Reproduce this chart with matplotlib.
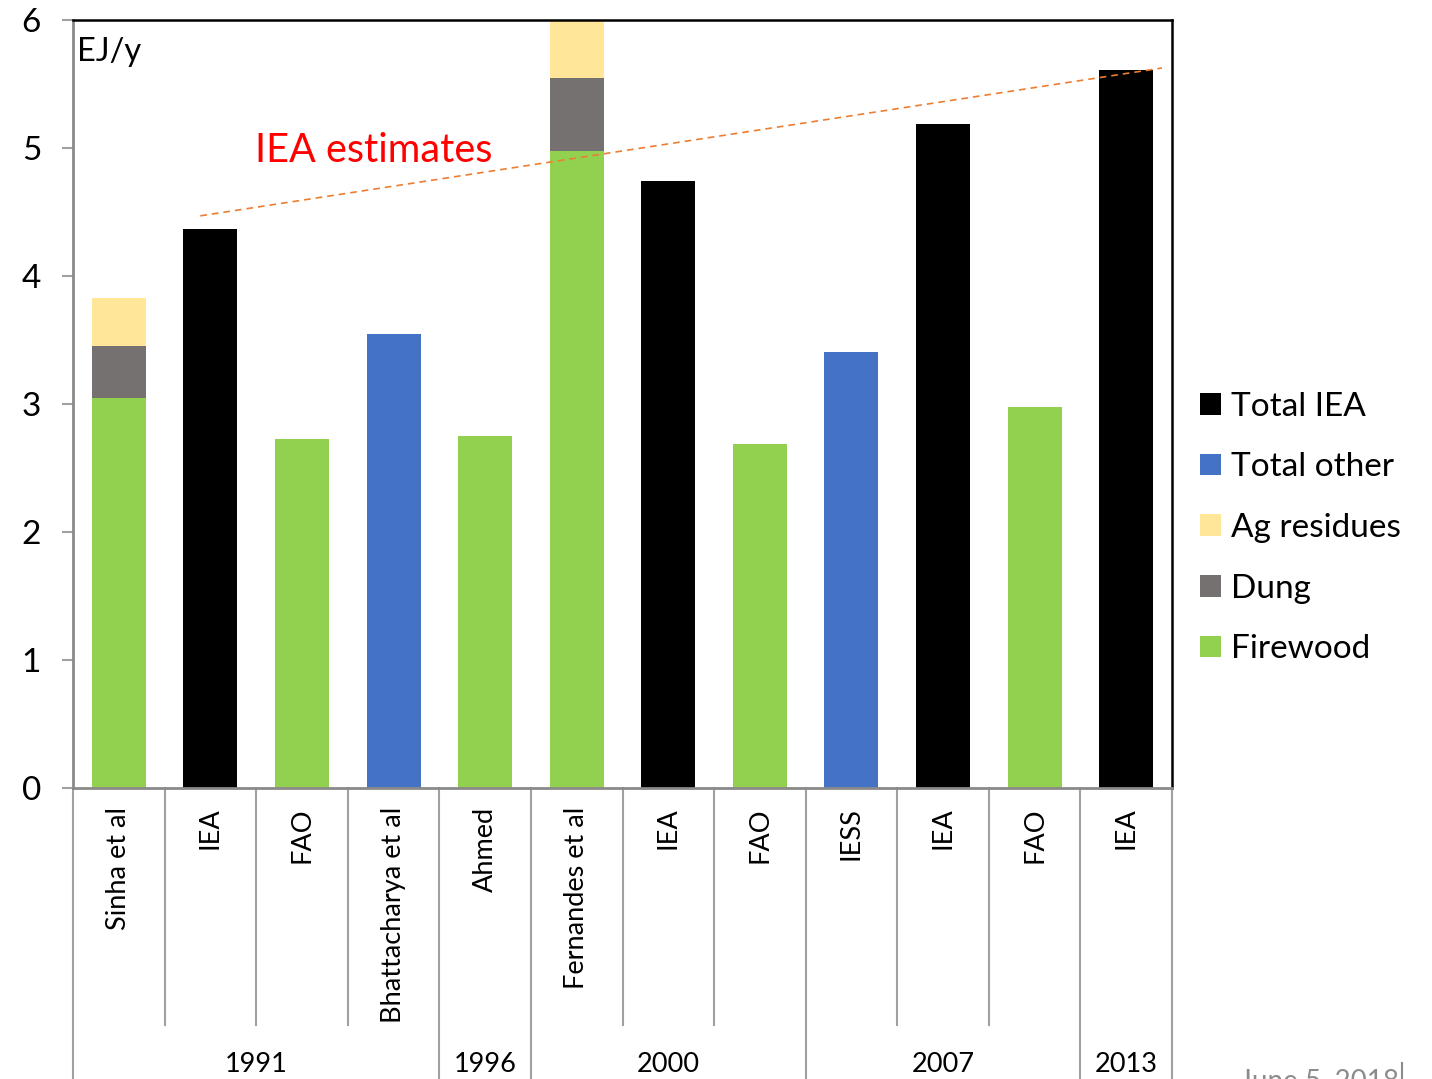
import numpy as np
import matplotlib.pyplot as plt

plt.rcParams['font.family'] = ['Lato', 'DejaVu Sans']

sources = ['Sinha et al', 'IEA', 'FAO', 'Bhattacharya et al', 'Ahmed', 'Fernandes et al',
           'IEA', 'FAO', 'IESS', 'IEA', 'FAO', 'IEA']
years = ['1991', '1996', '2000', '2007', '2013']
year_span = [4, 1, 3, 3, 1]

firewood = np.array([3.05, 0, 2.73, 0, 2.75, 4.98, 0, 2.69, 0, 0, 2.98, 0])
dung = np.array([0.40, 0, 0, 0, 0, 0.57, 0, 0, 0, 0, 0, 0])
ag_residues = np.array([0.38, 0, 0, 0, 0, 0.45, 0, 0, 0, 0, 0, 0])
total_iea = np.array([0, 4.37, 0, 0, 0, 0, 4.74, 0, 0, 5.19, 0, 5.61])
total_other = np.array([0, 0, 0, 3.55, 0, 0, 0, 0, 3.41, 0, 0, 0])

# trend line of IEA estimates (start / end)
trend_x = [0.89, 11.39]
trend_y = [4.47, 5.625]

c_fire = '#92D050'
c_dung = '#767171'
c_ag = '#FFE699'
c_iea = '#000000'
c_other = '#4472C4'
grey = '#A0A0A0'

fig = plt.figure(figsize=(14.32, 10.79), dpi=100)
ax = fig.add_axes([73 / 1432, 1 - 788 / 1079, 1099 / 1432, 768 / 1079])

x = np.arange(len(sources))
w = 0.59
b_iea = ax.bar(x, total_iea, w, color=c_iea, label='Total IEA')
b_oth = ax.bar(x, total_other, w, color=c_other, label='Total other')
b_fire = ax.bar(x, firewood, w, color=c_fire, label='Firewood')
b_dung = ax.bar(x, dung, w, bottom=firewood, color=c_dung, label='Dung')
b_ag = ax.bar(x, ag_residues, w, bottom=firewood + dung, color=c_ag, label='Ag residues')

ax.plot(trend_x, trend_y, color='#ED7D31', lw=1.2, ls=(0, (4, 3)), clip_on=False)
ax.text(1.49, 4.98, 'IEA estimates', color='#FF0000', fontsize=28.5, va='center', ha='left')
ax.text(0.004, 0.978, 'EJ/y', transform=ax.transAxes, fontsize=23.5, va='top', ha='left')

ax.set_xlim(-0.5, 11.5)
ax.set_ylim(0, 6)
ax.set_yticks(range(7))
ax.tick_params(axis='y', labelsize=24, length=8, width=1.5, color=grey, pad=15)
ax.set_xticks([])

for s in ['left', 'bottom']:
    ax.spines[s].set_color('#8A8A8A')
    ax.spines[s].set_linewidth(2)
for s in ['top', 'right']:
    ax.spines[s].set_color('black')
    ax.spines[s].set_linewidth(1.8)

# two-level category axis
tr = ax.get_xaxis_transform()
short_bottom = -(1025 - 788) / 768
long_bottom = -(1079 - 788) / 768
group_edges = np.cumsum([0] + year_span) - 0.5
for edge in np.arange(-0.5, len(sources)):
    yb = long_bottom if edge in group_edges else short_bottom
    ax.plot([edge, edge], [0, yb], color=grey, lw=1.5, transform=tr, clip_on=False)

for i, s in enumerate(sources):
    ax.text(i, -0.025, s, rotation=90, ha='center', va='top', fontsize=19.5, transform=tr)

for k, yr in enumerate(years):
    centre = (group_edges[k] + group_edges[k + 1]) / 2
    ax.text(centre, -0.36, yr, ha='center', va='center', fontsize=19.5, transform=tr)

fig.legend([b_iea, b_oth, b_ag, b_dung, b_fire],
           ['Total IEA', 'Total other', 'Ag residues', 'Dung', 'Firewood'],
           loc='center left', bbox_to_anchor=(1170 / 1432, 1 - 528 / 1079),
           frameon=False, fontsize=24, handlelength=0.62, handleheight=0.62,
           handletextpad=0.3, labelspacing=0.92)

fig.text(1240 / 1432, 1 - 1068 / 1079, 'June 5, 2018', color='#8C8C8C', fontsize=20, va='top')
fig.add_artist(plt.Line2D([1402 / 1432, 1402 / 1432], [0, 1 - 1063 / 1079], color='#8C8C8C', lw=1.5))

fig.savefig('out.png', dpi=100)
